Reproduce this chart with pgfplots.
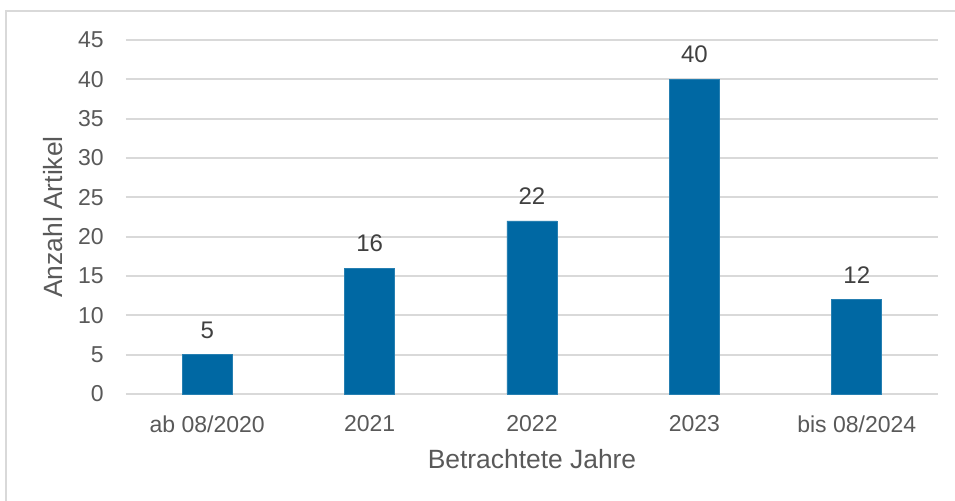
\documentclass[border=0pt]{standalone}
\usepackage{fontspec}
\setmainfont{Liberation Sans}
\usepackage{pgfplots}
\pgfplotsset{compat=1.18}

\definecolor{barblue}{HTML}{0068A3}
\definecolor{gridgray}{HTML}{D9D9D9}
\definecolor{ticktext}{HTML}{595959}
\definecolor{valtext}{HTML}{404040}

\begin{document}
\begin{tikzpicture}
% 1 px of the reference = 0.5pt
\useasboundingbox (0,0) rectangle (477.5pt,250.5pt);
\draw[gridgray, line width=1pt] (3pt,-1pt) -- (3pt,245pt) -- (480pt,245pt);
\begin{axis}[
    at={(63pt,53.5pt)}, anchor=south west,
    scale only axis,
    width=406pt, height=177pt,
    ybar, bar width=25pt,
    xmin=-0.5, xmax=4.5,
    ymin=0, ymax=45,
    xtick=data,
    xticklabels={ab 08/2020,2021,2022,2023,bis 08/2024},
    ytick={0,5,...,45},
    major tick length=0pt,
    axis line style={draw=none},
    ymajorgrids,
    grid style={gridgray, line width=1pt},
    /pgf/number format/assume math mode=true,
    ticklabel style={font=\fontsize{11.5pt}{13pt}\selectfont, text=ticktext},
    yticklabel style={anchor=east, inner sep=0pt, xshift=-11pt},
    xticklabel style={anchor=north, inner sep=0pt, yshift=-10.5pt},
    xlabel={Betrachtete Jahre},
    ylabel={Anzahl Artikel},
    label style={font=\fontsize{13.2pt}{15pt}\selectfont, text=ticktext},
    xlabel style={at={(axis description cs:0.5,-0.185)}, anchor=center},
    ylabel style={at={(axis description cs:-0.0899,0.5)}, anchor=center, rotate=0},
    nodes near coords,
    nodes near coords style={anchor=south, inner sep=0pt, yshift=8pt,
        font=\fontsize{12pt}{14pt}\selectfont, text=valtext},
    clip=false,
]
\addplot[fill=barblue, draw=barblue!85!white, line width=0.4pt] coordinates {
    (0,5) (1,16) (2,22) (3,40) (4,12)
};
\end{axis}
\end{tikzpicture}
\end{document}
